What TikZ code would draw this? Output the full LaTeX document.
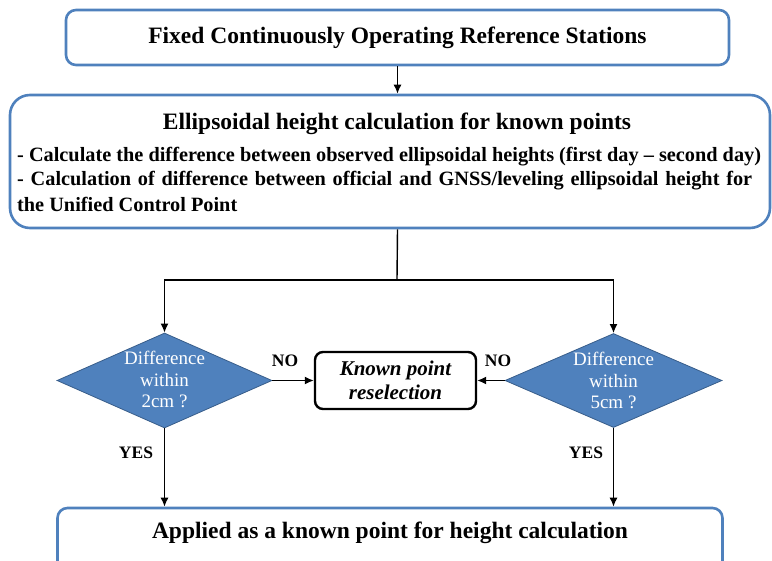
\documentclass[tikz,border=0pt]{standalone}
\usepackage{fontspec}
\setmainfont{Liberation Serif}
\usetikzlibrary{shapes.geometric,arrows.meta}
\definecolor{edgeblue}{RGB}{79,129,189}
\definecolor{fillblue}{RGB}{79,129,189}
\definecolor{darkblue}{RGB}{56,93,138}
\tikzset{
  bluebox/.style={draw=edgeblue,line width=2.6pt,rounded corners=10pt,fill=white,inner sep=0pt},
  blackbox/.style={draw=black,line width=2.4pt,rounded corners=8pt,fill=white,inner sep=0pt,
    align=center,font=\fontsize{21}{24}\selectfont\bfseries\itshape},
  decision/.style={diamond,draw=darkblue,line width=0.8pt,fill=fillblue,inner sep=0pt},
  dtext/.style={text=white,align=center,font=\fontsize{19}{21.5}\selectfont},
  flow/.style={line width=1.4pt,-{Latex[length=9pt,width=8pt]}},
  plainline/.style={line width=1.4pt},
  tag/.style={font=\fontsize{17.5}{18}\selectfont\bfseries},
  head/.style={font=\fontsize{23.5}{26}\selectfont\bfseries},
  bullet/.style={anchor=west,inner sep=0pt,font=\fontsize{20.3}{22}\selectfont\bfseries}
}
\begin{document}
\begin{tikzpicture}[x=1pt,y=-1pt]
  \useasboundingbox (0,0) rectangle (772,561);

  % top box
  \node[bluebox,minimum width=663pt,minimum height=55pt,head] (top) at (397.5,37.5)
    {Fixed Continuously Operating Reference Stations};

  % main calculation box
  \node[bluebox,rounded corners=20pt,minimum width=760pt,minimum height=133pt] (mid) at (390,161.5) {};
  \node[head] (midtitle) at (397,124) {Ellipsoidal height calculation for known points};
  \node[bullet] (b1) at (17,157) {- Calculate the difference between observed ellipsoidal heights (first day -- second day)};
  \node[bullet] (b2) at (17,181) {\makebox[735pt][s]{- Calculation of difference between official and GNSS/leveling ellipsoidal height for}};
  \node[bullet] (b3) at (17,204) {the Unified Control Point};

  % decisions
  \node[decision,minimum width=215pt,minimum height=95pt] (dl) at (164.5,380.5) {};
  \node[dtext] (dltext) at (164.5,379.5) {Difference\\within\\2cm ?};
  \node[decision,minimum width=217pt,minimum height=94pt] (dr) at (613.5,380.5) {};
  \node[dtext] (drtext) at (613.5,380.5) {Difference\\within\\5cm ?};

  % reselection box
  \node[blackbox,minimum width=161pt,minimum height=57pt] (kp) at (395.5,380.5)
    {Known point\\reselection};

  % bottom box
  \node[bluebox,minimum width=665pt,minimum height=66pt] (bot) at (390,541) {};
  \node[head] (bottext) at (390,533)
    {Applied as a known point for height calculation};

  % connectors
  \coordinate (split) at (397,280);
  \draw[flow] (top.south) -- (top.south |- mid.north);
  \draw[plainline] (top.south |- mid.south) -- (split);
  \draw[flow] (split) -| (dl.north);
  \draw[flow] (split) -| (dr.north);
  \draw[flow] (dl.east) -- (kp.west);
  \draw[flow] (dr.west) -- (kp.east);
  \draw[flow] (dl.south) -- (dl.south |- bot.north);
  \draw[flow] (dr.south) -- (dr.south |- bot.north);

  % labels
  \node[tag] (nol) at (285,361) {NO};
  \node[tag] (nor) at (498,361) {NO};
  \node[tag] (yesl) at (136,453) {YES};
  \node[tag] (yesr) at (586,453) {YES};
\end{tikzpicture}
\end{document}
